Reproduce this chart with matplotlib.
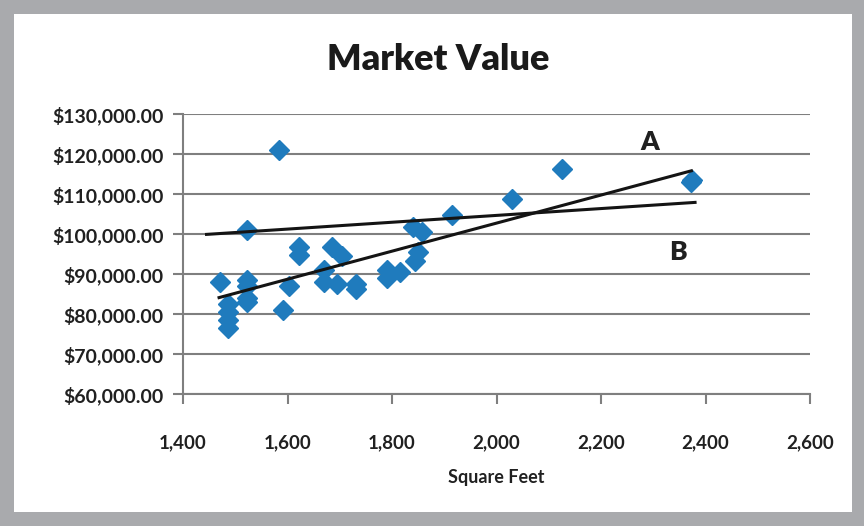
import matplotlib.pyplot as plt
from matplotlib.patches import Rectangle
from matplotlib.ticker import FuncFormatter

# square feet vs market value
sqft = [1584, 1522, 1471, 1487, 1487, 1487, 1487, 1522, 1522, 1522, 1522,
        1592, 1602, 1622, 1622, 1669, 1669, 1694, 1686, 1704, 1732, 1732,
        1790, 1790, 1815, 1844, 1850, 1841, 1857, 1914, 2030, 2125, 2375, 2372]
value = [121000, 101000, 88000, 82500, 80500, 78500, 76500, 88500, 87000, 84000, 83000,
         81000, 87000, 96800, 94800, 91000, 88000, 87500, 96800, 94500, 87500, 86200,
         91000, 89000, 90500, 93200, 95500, 101800, 100600, 104700, 108700, 116300, 113500, 113000]

# the two lines (end points)
line_a_x = [1469, 2373]
line_a_y = [84100, 115800]
line_b_x = [1445, 2380]
line_b_y = [99900, 107900]

x_ticks = [1400, 1600, 1800, 2000, 2200, 2400, 2600]
y_ticks = [60000, 70000, 80000, 90000, 100000, 110000, 120000, 130000]

fonts = ['Lato', 'DejaVu Sans']
txt = '#202020'

fig = plt.figure(figsize=(8.64, 5.26), dpi=100, facecolor='#a9aaad')
fig.patches.append(Rectangle((14 / 864, 14 / 526), (852 - 14) / 864, (512 - 14) / 526,
                             transform=fig.transFigure, facecolor='white',
                             edgecolor='none', zorder=-5))

ax = fig.add_axes([183 / 864, 1 - 394 / 526, (810 - 183) / 864, (394 - 114) / 526])
ax.set_facecolor('white')

ax.plot(sqft, value, linestyle='none', marker='D', markersize=10,
        color='#1f7bbd', zorder=3)
ax.plot(line_a_x, line_a_y, color='#141414', lw=2.2, zorder=4)
ax.plot(line_b_x, line_b_y, color='#141414', lw=2.2, zorder=4)

ax.text(2294, 123000, 'A', fontsize=19, fontweight='heavy', family=fonts,
        color=txt, ha='center', va='center')
ax.text(2348, 95500, 'B', fontsize=19, fontweight='heavy', family=fonts,
        color=txt, ha='center', va='center')

ax.set_xlim(1400, 2600)
ax.set_ylim(60000, 130000)
ax.set_xticks(x_ticks)
ax.set_yticks(y_ticks)
ax.xaxis.set_major_formatter(FuncFormatter(lambda v, p: f'{v:,.0f}'))
ax.yaxis.set_major_formatter(FuncFormatter(lambda v, p: f'${v:,.2f}'))

ax.grid(axis='y', color='#7f7f7f', lw=1.5, zorder=1)
ax.set_axisbelow(True)
for s in ['top', 'right']:
    ax.spines[s].set_visible(False)
for s in ['left', 'bottom']:
    ax.spines[s].set_color('#7f7f7f')
    ax.spines[s].set_linewidth(1.5)

ax.tick_params(axis='both', colors='#7f7f7f', width=1.5, length=7, labelcolor=txt)
ax.tick_params(axis='x', pad=22)
ax.tick_params(axis='y', pad=7)
for lab in ax.get_xticklabels():
    lab.set_family(fonts)
    lab.set_fontweight('bold')
    lab.set_fontsize(13.5)
for lab in ax.get_yticklabels():
    lab.set_family(fonts)
    lab.set_fontweight('bold')
    lab.set_fontsize(14)

ax.set_xlabel('Square Feet', fontsize=13, fontweight='bold', family=fonts,
              color=txt, labelpad=13)
fig.text(438 / 864, 1 - 60 / 526, 'Market Value', fontsize=26, fontweight='heavy',
         family=fonts, color='#1a1a1a', ha='center', va='center')

fig.savefig('out.png', dpi=100, facecolor=fig.get_facecolor())
